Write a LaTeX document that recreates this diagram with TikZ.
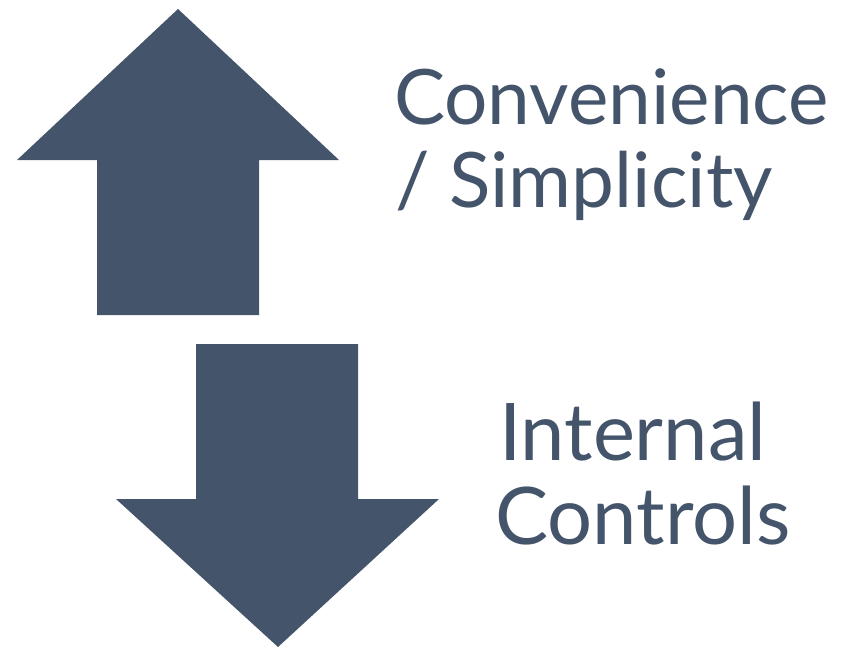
\documentclass[tikz,border=0pt]{standalone}
\usepackage{fontspec}
\setmainfont{Lato}
\usepackage{tikz}
\definecolor{slate}{HTML}{44546A}

\begin{document}
\begin{tikzpicture}[
  x=1pt, y=-1pt,
  every node/.style={text=slate, font=\fontsize{79.5}{83}\selectfont, inner sep=0pt, anchor=base west},
  upper/.style={font=\fontsize{76.5}{83}\selectfont},
  arrowbody/.style={fill=slate, draw=none}
]
  \useasboundingbox (0,0) rectangle (841,648);

  % Up arrow
  \fill[arrowbody] (178,9) -- (339,160) -- (259,160) -- (259,315)
    -- (97,315) -- (97,160) -- (17,160) -- cycle;

  % Down arrow
  \fill[arrowbody] (196,344) -- (358,344) -- (358,499) -- (439,499)
    -- (278,647) -- (116,499) -- (196,499) -- cycle;

  % Labels
  \node[upper] (conv) at (394,124) {Convenience};
  \node[upper] (simp) at (395,207) {/ Simplicity};
  \node (intern) at (499,460) {Internal};
  \node (ctrl) at (495,544) {Controls};
\end{tikzpicture}
\end{document}
